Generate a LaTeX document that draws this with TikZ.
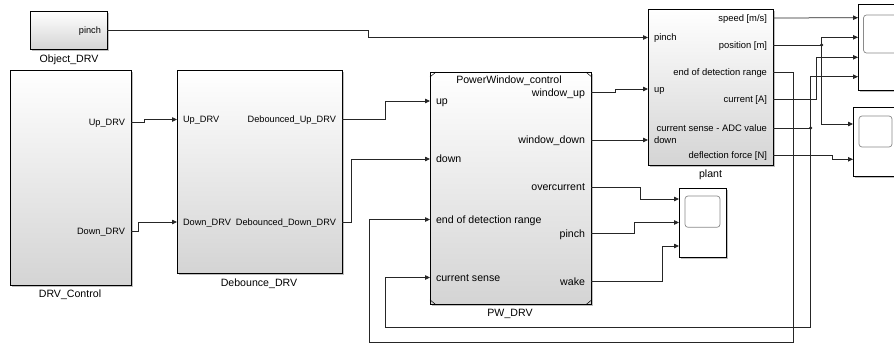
\documentclass[tikz,border=0pt]{standalone}
\usepackage{fontspec}
\setmainfont{Liberation Sans}
\usetikzlibrary{arrows.meta,shadows}
\definecolor{wire}{HTML}{262626}
\definecolor{blockbot}{HTML}{D4D4D4}
\definecolor{screen}{HTML}{8A8A8A}

\tikzset{
  blk/.style={draw=black, line width=0.8pt, anchor=north west, inner sep=0pt,
    top color=white, bottom color=blockbot,
    drop shadow={shadow xshift=1.4pt, shadow yshift=-1.4pt, opacity=0.5}},
  scopebox/.style={blk, bottom color=white},
  blklab/.style={anchor=base, yshift=-3.8pt},
  pin/.style={anchor=base west, yshift=-3.6pt, xshift=2.5pt},
  pout/.style={anchor=base east, yshift=-3.6pt, xshift=-2.5pt},
  sp/.style={font=\fontsize{9.2}{11}\selectfont, yshift=0.3pt},
  mp/.style={font=\fontsize{9.4}{11}\selectfont, yshift=0.2pt},
  lp/.style={},
  wire/.style={draw=wire, line width=0.75pt},
  sig/.style={wire, -{Triangle[length=5pt,width=4.5pt]}},
  bdot/.style={circle, fill=wire, inner sep=0pt, minimum size=3.5pt},
}

\begin{document}
\begin{tikzpicture}[x=1pt, y=-1pt, font=\fontsize{10.6}{12}\selectfont]
  \clip (0,0) rectangle (894,343);

  % blocks
  \node[blk, minimum width=77pt,  minimum height=38pt]  (obj)   at (30,11)  {};
  \node[blk, minimum width=121pt, minimum height=215pt] (drv)   at (10,70)  {};
  \node[blk, minimum width=165pt, minimum height=203pt] (deb)   at (177,70) {};
  \node[blk, minimum width=161pt, minimum height=232pt] (pw)    at (430,72) {};
  \node[blk, minimum width=125pt, minimum height=156pt] (plant) at (648,9)  {};
  \node[scopebox, minimum width=47pt, minimum height=69pt] (sc3) at (679,188) {};
  \node[scopebox, minimum width=46pt, minimum height=86pt] (sc1) at (858,4)   {};
  \node[scopebox, minimum width=45pt, minimum height=69pt] (sc2) at (853,107) {};

  \foreach \a/\b/\c/\d in {685/196/720/227.3, 863.5/15/898/53, 859/116/892/147}
    \draw[screen, line width=0.7pt, rounded corners=3pt] (\a,\b) rectangle (\c,\d);

  \draw[line width=0.5pt] ([yshift=-5pt]pw.north west) -- ([xshift=6pt]pw.north west);
  \draw[line width=0.5pt] ([xshift=-6pt]pw.north east) -- ([yshift=-5pt]pw.north east);
  \draw[line width=0.5pt] ([yshift=5pt]pw.south west) -- ([xshift=6pt]pw.south west);
  \draw[line width=0.5pt] ([xshift=-6pt]pw.south east) -- ([yshift=5pt]pw.south east);

  \node[blklab] (obj-t)   at (69,59)     {Object\_DRV};
  \node[blklab] (drv-t)   at (70,293.5)  {DRV\_Control};
  \node[blklab] (deb-t)   at (259,282.5) {Debounce\_DRV};
  \node[blklab] (pw-t)    at (510,312.7) {PW\_DRV};
  \node[blklab] (plant-t) at (710.5,174) {plant};
  \node[blklab] (pw-title) at (509,79.3) {PowerWindow\_control};

  % ports
  \foreach \n/\x/\y in {
    obj-pinch/107/30.5, drv-up/131/122.5, drv-dn/131/231,
    deb-up/177/119.5, deb-dn/177/222, deb-uo/342/119.5, deb-do/342/222,
    pw-up/430/101, pw-dn/430/159, pw-edr/430/219.5, pw-cs/430/277.5,
    pw-wu/591/92.5, pw-wd/591/140, pw-oc/591/187, pw-pi/591/233.5, pw-wk/591/281.5,
    pl-pinch/648/37.5, pl-up/648/89, pl-dn/648/140,
    pl-sp/773/18, pl-pos/773/45, pl-edr/773/72.5, pl-ca/773/99.5, pl-cs/773/128, pl-df/773/155.5,
    sc1-1/858/17.7, sc1-2/858/37.3, sc1-3/858/57.3, sc1-4/858/76.7,
    sc2-1/853/124, sc2-2/853/159.3,
    sc3-1/679/199, sc3-2/679/222.5, sc3-3/679/246
  } \coordinate (\n) at (\x,\y);

  \foreach \n/\t/\s in {deb-up/Up\_DRV/sp, deb-dn/Down\_DRV/sp, pw-up/up/lp, pw-dn/down/lp,
    pw-edr/end of detection range/lp, pw-cs/current sense/lp,
    pl-pinch/pinch/mp, pl-up/up/mp, pl-dn/down/mp}
    \node[pin,\s] (\n-t) at (\n) {\t};
  \foreach \n/\t/\s in {obj-pinch/pinch/sp, drv-up/Up\_DRV/sp, drv-dn/Down\_DRV/sp,
    deb-uo/Debounced\_Up\_DRV/sp, deb-do/Debounced\_Down\_DRV/sp,
    pw-wu/window\_up/lp, pw-wd/window\_down/lp, pw-oc/overcurrent/lp, pw-pi/pinch/lp, pw-wk/wake/lp,
    pl-sp/{speed [m/s]}/mp, pl-pos/{position [m]}/mp, pl-edr/end of detection range/mp,
    pl-ca/{current [A]}/mp, pl-cs/current sense - ADC value/mp, pl-df/{deflection force [N]}/mp}
    \node[pout,\s] (\n-t) at (\n) {\t};

  % signals
  \draw[sig] (obj-pinch) -- ++(261,0) |- (pl-pinch);
  \draw[sig] (drv-up) -- ++(13,0) |- (deb-up);
  \draw[sig] (drv-dn) -- ++(7,0) |- (deb-dn);
  \draw[sig] (deb-uo) -- ++(43,0) |- (pw-up);
  \draw[sig] (deb-do) -- ++(9,0) |- (pw-dn);
  \draw[sig] (pw-wu) -- ++(24,0) |- (pl-up);
  \draw[sig] (pw-wd) -- (pl-dn);
  \draw[sig] (pw-oc) -- ++(49,0) |- (sc3-1);
  \draw[sig] (pw-pi) -- ++(43,0) |- (sc3-2);
  \draw[sig] (pw-wk) -- ++(71.5,0) |- (sc3-3);
  \draw[sig] (pl-sp) -- (sc1-1);
  \draw[wire] (pl-pos) -- ++(48.5,0) coordinate (br-pos);
  \draw[sig] (br-pos) |- (sc1-2);
  \draw[sig] (br-pos) |- (sc2-1);
  \draw[sig] (pl-ca) -- ++(43,0) |- (sc1-3);
  \draw[wire] (pl-cs) -- ++(37.5,0) coordinate (br-cs);
  \draw[sig] (br-cs) |- (sc1-4);
  \draw[sig] (pl-df) -- ++(59,0) |- (sc2-2);

  % feedback
  \draw[sig] (pl-edr) -- ++(20,0) -- ++(0,269.5) -| ([xshift=-60.5pt]pw-edr) -- (pw-edr);
  \draw[sig] (br-cs) -- ++(0,199.5) -| ([xshift=-45pt]pw-cs) -- (pw-cs);

  \node[bdot] (d-pos) at (br-pos) {};
  \node[bdot] (d-cs)  at (br-cs)  {};
\end{tikzpicture}
\end{document}
